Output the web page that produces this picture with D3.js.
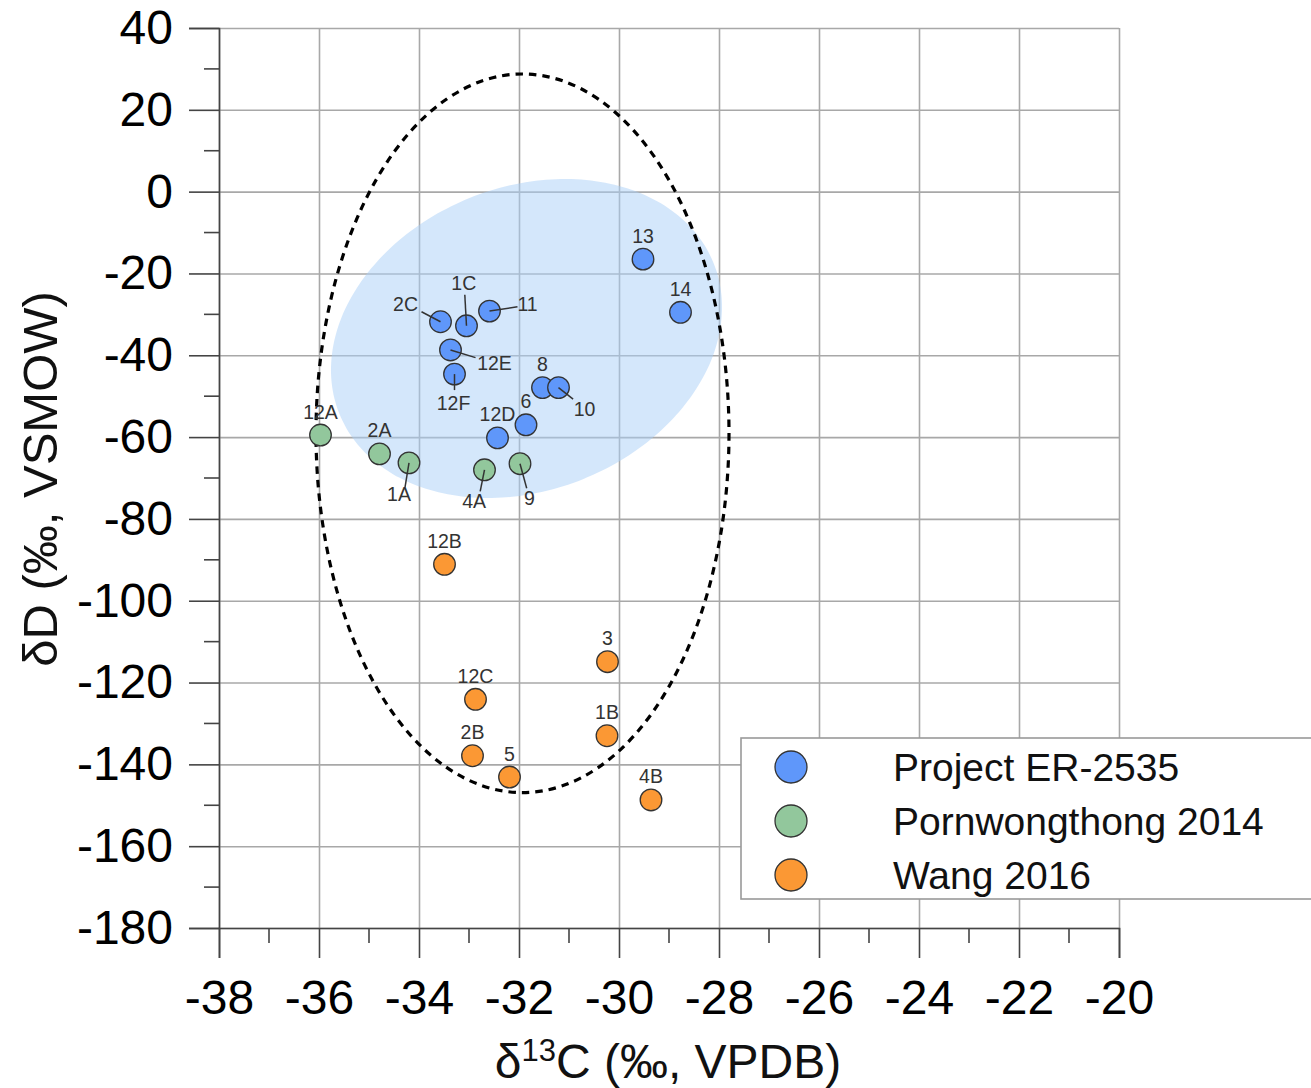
<!DOCTYPE html>
<html>
<head>
<meta charset="utf-8">
<script src="https://cdn.jsdelivr.net/npm/d3@7"></script>
<style>
  html, body { margin: 0; padding: 0; background: #fff; }
  svg { display: block; font-family: "Liberation Sans", Arial, sans-serif; }
</style>
</head>
<body>
<svg id="chart" width="1311" height="1088"></svg>
<script>
// ---------- DATA ----------
const seriesNames = ["Project ER-2535", "Pornwongthong 2014", "Wang 2016"];
const seriesColors = ["#5f97fa", "#92c79c", "#fb9834"];

const projectIds = ["13", "14", "2C", "1C", "11", "12E", "12F", "8", "10", "6", "12D"];
const projectC   = [-29.52, -28.77, -33.57, -33.05, -32.59, -33.37, -33.29, -31.53, -31.21, -31.86, -32.43];
const projectD   = [-16.5, -29.5, -31.8, -32.8, -29.2, -38.7, -44.6, -47.9, -47.9, -57.0, -60.2];

const pornIds = ["12A", "2A", "1A", "4A", "9"];
const pornC   = [-35.97, -34.79, -34.20, -32.69, -31.98];
const pornD   = [-59.5, -64.1, -66.3, -68.0, -66.5];

const wangIds = ["12B", "3", "12C", "1B", "2B", "5", "4B"];
const wangC   = [-33.49, -30.23, -32.87, -30.24, -32.93, -32.19, -29.36];
const wangD   = [-91.1, -114.9, -124.1, -133.0, -137.9, -143.1, -148.7];

const xTickValues = [-38, -36, -34, -32, -30, -28, -26, -24, -22, -20];
const yTickValues = [40, 20, 0, -20, -40, -60, -80, -100, -120, -140, -160, -180];

// Shaded (rotated) ellipse: centre and two semi-axis vectors, in data units
const shadeCentre = [-31.85, -35.9];
const shadeAxisU  = [3.744, 18.36];
const shadeAxisV  = [1.128, -34.39];
// Dashed ellipse: centre and radii, in data units
const dashCentre = [-31.93, -59.07];
const dashRadii  = [4.13, 87.83];

// ---------- LAYOUT (pixels) ----------
const labelLayout = {
  "2C":  {dx: -35, dy: -11, lx: -19, ly: -10},
  "1C":  {dx: -2.7, dy: -36, lx: -1.7, ly: -31},
  "11":  {dx: 38, dy: 0, lx: 28, ly: -4.3},
  "12E": {dx: 44, dy: 20, lx: 25, ly: 7.7},
  "12F": {dx: -1, dy: 35.5, lx: 0, ly: 16},
  "10":  {dx: 26, dy: 28.5, lx: 14.6, ly: 11.6},
  "1A":  {dx: -10, dy: 38, lx: -4, ly: 24.5},
  "4A":  {dx: -10.3, dy: 38.5, lx: -4.3, ly: 21.5},
  "9":   {dx: 9.5, dy: 41.5, lx: 6.7, ly: 24.5}
};
const defaultLabel = {dx: 0, dy: -16.5};

const svg = d3.select("#chart");
const x = d3.scaleLinear().domain([-38, -20]).range([219, 1119]);
const y = d3.scaleLinear().domain([-180, 40]).range([928, 28]);

const points = [];
[[projectIds, projectC, projectD], [pornIds, pornC, pornD], [wangIds, wangC, wangD]].forEach(([ids, cs, ds], s) => {
  ids.forEach((id, i) => points.push({id, c: cs[i], d: ds[i], s}));
});

// ---------- GRID ----------
const grid = svg.append("g");
grid.append("g").attr("transform", `translate(0,${y(-180)})`)
  .call(d3.axisBottom(x).tickValues(xTickValues).tickSize(-(y(-180) - y(40))).tickFormat(""))
  .call(g => g.select(".domain").remove())
  .call(g => g.selectAll("line").attr("stroke", "#a8a8a8").attr("stroke-width", 1.6));
grid.append("g").attr("transform", `translate(${x(-38)},0)`)
  .call(d3.axisLeft(y).tickValues(yTickValues).tickSize(-(x(-20) - x(-38))).tickFormat(""))
  .call(g => g.select(".domain").remove())
  .call(g => g.selectAll("line").attr("stroke", "#a8a8a8").attr("stroke-width", 1.6));

// ---------- SHADED ELLIPSE ----------
const shadePts = d3.range(0, 360, 3).map(deg => {
  const t = deg * Math.PI / 180;
  return [shadeCentre[0] + shadeAxisU[0] * Math.cos(t) + shadeAxisV[0] * Math.sin(t),
          shadeCentre[1] + shadeAxisU[1] * Math.cos(t) + shadeAxisV[1] * Math.sin(t)];
});
svg.append("path")
  .attr("d", d3.line().x(p => x(p[0])).y(p => y(p[1])).curve(d3.curveCardinalClosed)(shadePts))
  .attr("fill", "#a9cff7").attr("fill-opacity", 0.5).attr("stroke", "none");

// ---------- DASHED ELLIPSE ----------
svg.append("ellipse")
  .attr("cx", x(dashCentre[0])).attr("cy", y(dashCentre[1]))
  .attr("rx", x(dashCentre[0] + dashRadii[0]) - x(dashCentre[0]))
  .attr("ry", y(dashCentre[1] - dashRadii[1]) - y(dashCentre[1]))
  .attr("fill", "none").attr("stroke", "#000").attr("stroke-width", 3.2)
  .attr("stroke-dasharray", "7.5,6");

// ---------- AXES ----------
const axisColor = "#444";
const xAxis = svg.append("g").attr("transform", `translate(0,${y(-180)})`)
  .call(d3.axisBottom(x).tickValues(xTickValues).tickSize(30).tickPadding(22).tickFormat(d3.format("d")));
xAxis.selectAll("text").attr("font-size", 48).attr("fill", "#000")
  .attr("font-family", "Liberation Sans, Arial, sans-serif").text(d => String(d));
xAxis.append("g").selectAll("line").data(d3.range(-37, -20, 2)).join("line")
  .attr("x1", d => x(d)).attr("x2", d => x(d)).attr("y1", 0).attr("y2", 15);

const yAxis = svg.append("g").attr("transform", `translate(${x(-38)},0)`)
  .call(d3.axisLeft(y).tickValues(yTickValues).tickSize(30).tickPadding(16).tickFormat(d3.format("d")));
yAxis.selectAll("text").attr("font-size", 48).attr("fill", "#000")
  .attr("font-family", "Liberation Sans, Arial, sans-serif").text(d => String(d));
yAxis.append("g").selectAll("line").data(d3.range(-170, 40, 20)).join("line")
  .attr("y1", d => y(d)).attr("y2", d => y(d)).attr("x1", 0).attr("x2", -15);

[xAxis, yAxis].forEach(a => {
  a.selectAll("line").attr("stroke", axisColor).attr("stroke-width", 1.6);
  a.select(".domain").attr("stroke", axisColor).attr("stroke-width", 1.6);
});

// ---------- AXIS TITLES ----------
const xt = svg.append("text").attr("x", 668).attr("y", 1078).attr("text-anchor", "middle")
  .attr("font-size", 48).attr("fill", "#111");
xt.append("tspan").text("δ");
xt.append("tspan").attr("font-size", 31).attr("dy", -17).text("13");
xt.append("tspan").attr("dy", 17).text("C (‰, VPDB)");

svg.append("text").attr("transform", "translate(57,479) rotate(-90)").attr("text-anchor", "middle")
  .attr("font-size", 49).attr("fill", "#111").text("δD (‰, VSMOW)");

// ---------- POINTS, LEADER LINES, LABELS ----------
const pg = svg.append("g");
pg.selectAll("circle").data(points).join("circle")
  .attr("cx", p => x(p.c)).attr("cy", p => y(p.d)).attr("r", 10.8)
  .attr("fill", p => seriesColors[p.s]).attr("stroke", "#333").attr("stroke-width", 1.3);

pg.selectAll("line.leader").data(points.filter(p => labelLayout[p.id])).join("line")
  .attr("class", "leader")
  .attr("x1", p => x(p.c)).attr("y1", p => y(p.d))
  .attr("x2", p => x(p.c) + labelLayout[p.id].lx).attr("y2", p => y(p.d) + labelLayout[p.id].ly)
  .attr("stroke", "#333").attr("stroke-width", 1.5);

pg.selectAll("text").data(points).join("text")
  .attr("x", p => x(p.c) + (labelLayout[p.id] || defaultLabel).dx)
  .attr("y", p => y(p.d) + (labelLayout[p.id] || defaultLabel).dy)
  .attr("text-anchor", "middle").attr("font-size", 19.5).attr("fill", "#333")
  .text(p => p.id);

// ---------- LEGEND ----------
const lg = svg.append("g");
lg.append("rect").attr("x", 741).attr("y", 738).attr("width", 600).attr("height", 161)
  .attr("fill", "#fff").attr("stroke", "#999").attr("stroke-width", 1.6);
seriesNames.forEach((name, i) => {
  lg.append("circle").attr("cx", 791).attr("cy", 767 + i * 54).attr("r", 16)
    .attr("fill", seriesColors[i]).attr("stroke", "#333").attr("stroke-width", 1.3);
  lg.append("text").attr("x", 893).attr("y", 781 + i * 54).attr("font-size", 39).attr("fill", "#111").text(name);
});
</script>
</body>
</html>
